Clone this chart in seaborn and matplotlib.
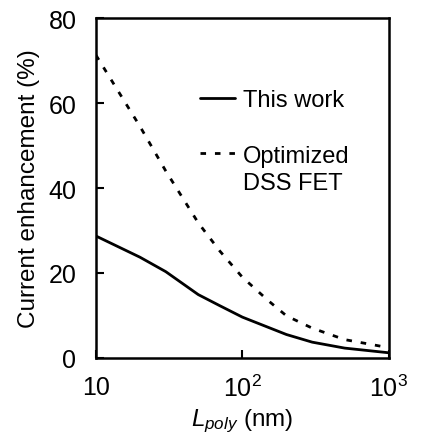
import numpy as np
import pandas as pd
import matplotlib
matplotlib.use("Agg")
import matplotlib.pyplot as plt
import seaborn as sns
from matplotlib.lines import Line2D
from matplotlib.ticker import FixedLocator, FixedFormatter, NullLocator

# ---- data ----
lpoly_nm = [10, 20, 30, 50, 70, 100, 150, 200, 300, 500, 1000]
this_work = [28.7, 23.7, 20.3, 14.9, 12.3, 9.6, 7.2, 5.5, 3.7, 2.3, 1.2]
optimized_dss = [71.3, 54.5, 44.0, 31.8, 25.2, 19.0, 13.5, 9.9, 7.0, 4.3, 2.4]
series_labels = ["This work", "Optimized"]
x_ticks = [10, 100, 1000]
x_ticklabels = ["10", r"$10^2$", r"$10^3$"]
y_ticks = [0, 20, 40, 60, 80]

sns.set_style("ticks")
plt.rcParams["font.family"] = ["Liberation Sans", "DejaVu Sans"]
plt.rcParams["mathtext.fontset"] = "custom"
plt.rcParams["mathtext.rm"] = "Liberation Sans"
plt.rcParams["mathtext.it"] = "Liberation Sans:italic"
plt.rcParams["mathtext.default"] = "regular"
for k in ["text.color", "axes.labelcolor", "xtick.color", "ytick.color", "axes.edgecolor"]:
    plt.rcParams[k] = "black"

df = pd.DataFrame({
    "L": lpoly_nm * 2,
    "enh": this_work + optimized_dss,
    "series": [series_labels[0]] * len(lpoly_nm) + [series_labels[1]] * len(lpoly_nm),
})

DASH = (2.0, 3.2)
LW = 2.0

fig = plt.figure(figsize=(4.32, 4.35), dpi=100)
ax = fig.add_axes([0.222, 0.175, 0.678, 0.781])

sns.lineplot(data=df, x="L", y="enh", style="series",
             dashes={series_labels[0]: "", series_labels[1]: DASH},
             color="black", linewidth=LW, ax=ax, legend=False)

ax.set_xscale("log")
ax.set_xlim(10, 1000)
ax.set_ylim(0, 80)
ax.xaxis.set_major_locator(FixedLocator(x_ticks))
ax.xaxis.set_major_formatter(FixedFormatter(x_ticklabels))
ax.xaxis.set_minor_locator(NullLocator())
ax.set_yticks(y_ticks)

ax.tick_params(axis="both", direction="in", length=6, width=1.5,
               labelsize=18, colors="black")
ax.tick_params(axis="y", pad=14)
ax.tick_params(axis="x", pad=12)
for s in ax.spines.values():
    s.set_linewidth(1.8)
    s.set_color("black")
    s.set_visible(True)

ax.set_ylabel("Current enhancement (%)", fontsize=17.5, labelpad=6)
ax.set_xlabel(r"$\mathit{L}_{\mathit{poly}}$ (nm)", fontsize=17.5, labelpad=4)

handles = [Line2D([], [], color="black", linewidth=LW),
           Line2D([], [], color="black", linewidth=LW, dashes=DASH)]
leg = ax.legend(handles, series_labels, frameon=False, fontsize=17,
                loc="upper left", bbox_to_anchor=(0.354, 0.79),
                handlelength=1.5, handletextpad=0.35, labelspacing=1.4,
                borderaxespad=0, borderpad=0)
ax.text(0.502, 0.497, "DSS FET", transform=ax.transAxes, fontsize=17,
        ha="left", va="baseline")

fig.savefig("out.png", dpi=100)
